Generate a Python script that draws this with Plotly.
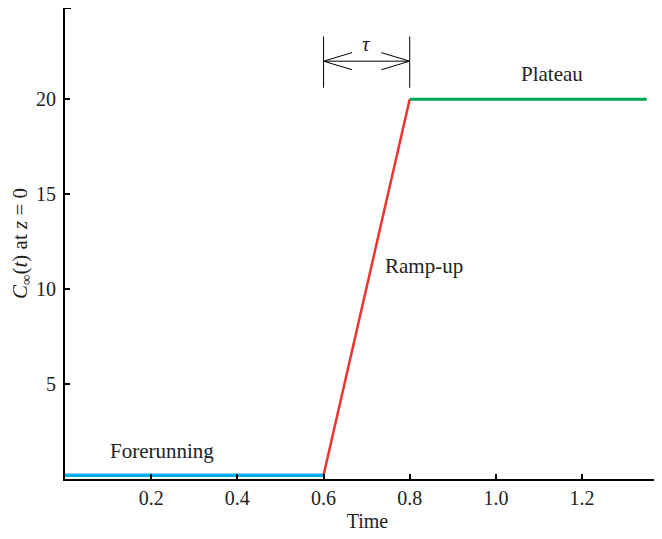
import plotly.graph_objects as go

# Data
fore_t = [0.0, 0.6]
fore_c = [0.2, 0.2]
ramp_t = [0.6, 0.8]
ramp_c = [0.2, 20.0]
plat_t = [0.8, 1.35]
plat_c = [20.0, 20.0]

x_ticks = [0.2, 0.4, 0.6, 0.8, 1.0, 1.2]
x_ticklabels = ["0.2", "0.4", "0.6", "0.8", "1.0", "1.2"]
y_ticks = [5, 10, 15, 20]
y_ticklabels = ["5", "10", "15", "20"]
x_max = 1.404
y_max = 24.8

labels = ["Forerunning", "Ramp-up", "Plateau"]
label_x = [0.224, 0.833, 1.13]
label_y = [1.5, 11.2, 21.3]

tau_y_line = [20.6, 23.3]
tau_arrow_y = 22.0
tau_label_y = 22.9

FONT = "Liberation Serif, Times New Roman, serif"
TXT = "#222222"

fig = go.Figure()
fig.add_trace(go.Scatter(x=fore_t, y=fore_c, mode="lines",
                         line=dict(color="#00AEEF", width=3.5), showlegend=False))
fig.add_trace(go.Scatter(x=ramp_t, y=ramp_c, mode="lines",
                         line=dict(color="#EE3333", width=2.5), showlegend=False))
fig.add_trace(go.Scatter(x=plat_t, y=plat_c, mode="lines",
                         line=dict(color="#00A651", width=3), showlegend=False))

for tx, ty, tt in zip(label_x, label_y, labels):
    fig.add_annotation(x=tx, y=ty, text=tt, showarrow=False,
                       font=dict(family=FONT, size=21, color=TXT))

# tau annotation
t0, t1 = ramp_t
for xv in (t0, t1):
    fig.add_shape(type="line", x0=xv, x1=xv, y0=tau_y_line[0], y1=tau_y_line[1],
                  line=dict(color="black", width=1))
fig.add_shape(type="line", x0=t0, x1=t1, y0=tau_arrow_y, y1=tau_arrow_y,
              line=dict(color="black", width=1))
ah_dx = 0.066
ah_dy = 0.45
for sgn in (1, -1):
    fig.add_shape(type="line", x0=t0, x1=t0 + ah_dx, y0=tau_arrow_y, y1=tau_arrow_y + sgn * ah_dy,
                  line=dict(color="black", width=1))
    fig.add_shape(type="line", x0=t1, x1=t1 - ah_dx, y0=tau_arrow_y, y1=tau_arrow_y + sgn * ah_dy,
                  line=dict(color="black", width=1))
fig.add_annotation(x=(t0 + t1) / 2, y=tau_label_y, text="<i>τ</i>", showarrow=False,
                   font=dict(family=FONT, size=21, color=TXT))

# small tick at the top of the y axis
fig.add_shape(type="line", xref="x domain", yref="y domain", x0=0, x1=0.01, y0=1, y1=1,
              line=dict(color="black", width=2))

fig.update_layout(
    width=662, height=539,
    margin=dict(l=57, r=0, t=0, b=68),
    plot_bgcolor="white", paper_bgcolor="white",
    font=dict(family=FONT, size=20, color=TXT),
    xaxis=dict(range=[0, x_max], tickvals=x_ticks, ticktext=x_ticklabels,
               showline=True, linecolor="black", linewidth=2,
               ticks="inside", ticklen=5, tickwidth=2, tickcolor="black",
               showgrid=False, zeroline=False, automargin=False,
               title=dict(text="Time", font=dict(family=FONT, size=20, color=TXT), standoff=6)),
    yaxis=dict(range=[0, y_max], tickvals=y_ticks, ticktext=y_ticklabels,
               showline=True, linecolor="black", linewidth=2,
               ticks="inside", ticklen=5, tickwidth=2, tickcolor="black",
               ticklabelstandoff=3,
               showgrid=False, zeroline=False, automargin=False,
               title=dict(text="<i>C</i><sub>∞</sub>(<i>t</i>) at <i>z</i> = 0",
                          font=dict(family=FONT, size=21, color=TXT), standoff=12)),
)

fig.write_html("out.html")
